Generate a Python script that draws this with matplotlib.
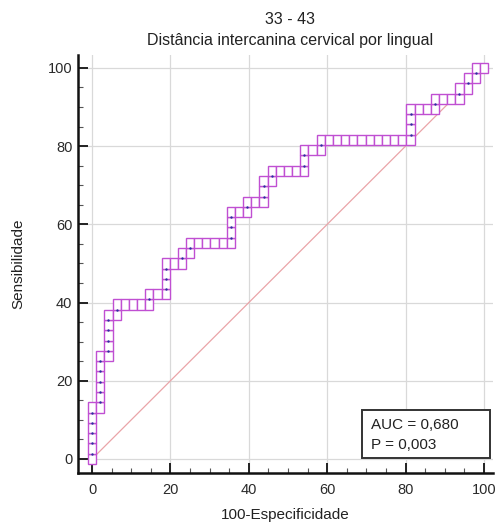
import matplotlib
matplotlib.use("Agg")
import matplotlib.pyplot as plt
from matplotlib.patches import Rectangle
from matplotlib.ticker import MultipleLocator

plt.rcParams['font.family'] = ['Liberation Sans', 'DejaVu Sans']

# Sample sizes (negative / positive cases)
n_negative = 48
n_positive = 38

# Corners of the empirical ROC staircase, as (false positive count, true positive count)
fp_corners = [0, 0, 1, 1, 2, 2, 3, 3, 7, 7, 9, 9, 11, 11, 12, 12, 17, 17, 19, 19,
              21, 21, 22, 22, 26, 26, 28, 28, 39, 39, 42, 42, 45, 45, 46, 46, 47, 47, 48]
tp_corners = [0, 5, 5, 10, 10, 14, 14, 15, 15, 16, 16, 19, 19, 20, 20, 21, 21, 24, 24, 25,
              25, 27, 27, 28, 28, 30, 30, 31, 31, 34, 34, 35, 35, 36, 36, 37, 37, 38, 38]

auc_text = "AUC = 0,680"
p_text = "P = 0,003"
title_top = "33 - 43"
title_sub = "Distância intercanina cervical por lingual"
xlabel = "100-Especificidade"
ylabel = "Sensibilidade"

dx = 100.0 / n_negative
dy = 100.0 / n_positive

# Expand the corners into every unit step of the staircase
cells = [(fp_corners[0], tp_corners[0])]
dots = []
for k in range(1, len(fp_corners)):
    i0, j0 = cells[-1]
    i1, j1 = fp_corners[k], tp_corners[k]
    while (i0, j0) != (i1, j1):
        if i0 < i1:
            i0 += 1
        elif j0 < j1:
            dots.append((i0, j0 + 0.5))
            j0 += 1
        cells.append((i0, j0))

fig = plt.figure(figsize=(4.97, 5.24), dpi=100)
ax = fig.add_axes([78 / 497, 1 - 473 / 524, (493 - 78) / 497, (473 - 55) / 524])

ax.set_xlim(-3.6, 102.3)
ax.set_ylim(-3.6, 103.3)

ax.xaxis.set_major_locator(MultipleLocator(20))
ax.yaxis.set_major_locator(MultipleLocator(20))
ax.xaxis.set_minor_locator(MultipleLocator(5))
ax.yaxis.set_minor_locator(MultipleLocator(5))
ax.grid(True, which='major', color='#d9d9d9', linewidth=0.9, zorder=0)
ax.set_axisbelow(True)

for side in ('top', 'right'):
    ax.spines[side].set_visible(False)
for side in ('left', 'bottom'):
    ax.spines[side].set_linewidth(1.8)
    ax.spines[side].set_color('#111111')

ax.tick_params(which='major', direction='in', length=7, width=1.4, color='#222222',
               labelsize=10.5, labelcolor='#2a2a2a')
ax.tick_params(which='minor', direction='in', length=3.5, width=0.8, color='#555555')
ax.tick_params(axis='x', which='major', pad=7)
ax.tick_params(axis='y', which='major', pad=4)

# Chance line
ax.plot([0, 100], [0, 100], color='#eaa4a8', linewidth=0.9, zorder=1)

# Staircase cells
for i, j in cells:
    ax.add_patch(Rectangle((i * dx - dx / 2, j * dy - dy / 2), dx, dy,
                           facecolor='white', edgecolor='#c04fd2', linewidth=1.0, zorder=3))

# Criterion points
ax.scatter([i * dx for i, _ in dots], [j * dy for _, j in dots], s=3,
           color='#2b2fa0', zorder=4, linewidths=0)

ax.set_xlabel(xlabel, fontsize=11, color='#222222', labelpad=8)
ax.set_ylabel(ylabel, fontsize=11, color='#222222', labelpad=16)

fig.text(290 / 497, 1 - 19 / 524, title_top, ha='center', va='center', fontsize=11.5, color='#222222')
fig.text(290 / 497, 1 - 40 / 524, title_sub, ha='center', va='center', fontsize=11.5, color='#222222')

# Statistics box
ax.add_patch(Rectangle((0.684, 0.036), 0.309, 0.115, transform=ax.transAxes,
                       facecolor='white', edgecolor='#333333', linewidth=1.4, zorder=5))
ax.text(0.706, 0.115, auc_text, transform=ax.transAxes, fontsize=11,
        color='#222222', va='center', ha='left', zorder=6)
ax.text(0.706, 0.067, p_text, transform=ax.transAxes, fontsize=11,
        color='#222222', va='center', ha='left', zorder=6)

fig.savefig("out.png", dpi=100)
